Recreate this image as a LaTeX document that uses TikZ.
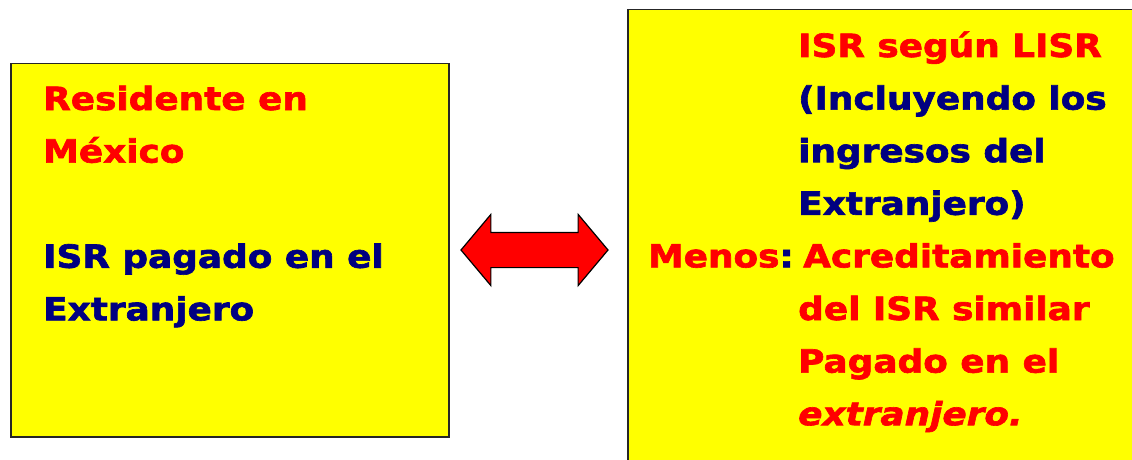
\documentclass[tikz,border=0pt]{standalone}
\usepackage{fontspec}
\newfontfamily\blk[FakeStretch=1.12,FakeBold=2]{DejaVu Sans}
\usetikzlibrary{positioning,shapes.arrows}
\definecolor{isrred}{RGB}{255,0,0}
\definecolor{isrblue}{RGB}{0,0,128}
\definecolor{boxyellow}{RGB}{255,255,0}

\begin{document}
\begin{tikzpicture}[x=1pt,y=-1pt,
    box/.style={draw=black!85,fill=boxyellow,line width=1.5pt,inner sep=0pt,anchor=north west},
    txt/.style={font=\blk\bfseries\fontsize{32}{38}\selectfont,inner sep=0pt,anchor=base west},
    nextline/.style={below=52.6pt of #1.base west,anchor=base west}]
                \useasboundingbox (0,0) rectangle (1132,460);
                \clip (0,0) rectangle (1132,460);
                % the two boxes
                \node[box,minimum width=438pt,minimum height=373pt] (resbox) at (10,63) {};
                \node[box,minimum width=540pt,minimum height=490pt] (isrbox) at (627,9) {};
                % left box text
                \node[txt,text=isrred] (res1) at (43,110) {Residente en};
                \node[txt,text=isrred,nextline=res1] (res2) {México};
                \node[txt,text=isrblue,below=105.2pt of res2.base west,anchor=base west] (res3) {ISR pagado en el};
                \node[txt,text=isrblue,nextline=res3] (res4) {Extranjero};
                % right box text
                \node[txt,text=isrred] (isr1) at (798,57) {ISR según LISR};
                \node[txt,text=isrblue,nextline=isr1] (isr2) {(Incluyendo los};
                \node[txt,text=isrblue,nextline=isr2] (isr3) {ingresos del};
                \node[txt,text=isrblue,nextline=isr3] (isr4) {Extranjero)};
                \node[txt,text=isrred,nextline=isr4,xshift=5pt] (isr5) {Acreditamiento};
                \node[txt,left=9pt of isr5.base west,anchor=base east] (menos) {\textcolor{isrred}{Menos}\textcolor{isrblue}{:}};
                \node[txt,text=isrred,below=52.6pt of isr5.base west,anchor=base west,xshift=-5pt] (isr6) {del ISR similar};
                \node[txt,text=isrred,nextline=isr6] (isr7) {Pagado en el};
                \node[txt,text=isrred,nextline=isr7,font=\blk\bfseries\itshape\fontsize{32}{38}\selectfont] (isr8) {extranjero.};
                % double arrow between the boxes
                \node[double arrow,draw=black,fill=isrred,line width=1.2pt,inner xsep=0pt,inner ysep=17pt,
                      minimum height=147pt,minimum width=70pt,
                      double arrow head extend=18pt,double arrow tip angle=100] (arr) at (534.5,250) {};
\end{tikzpicture}
\end{document}
